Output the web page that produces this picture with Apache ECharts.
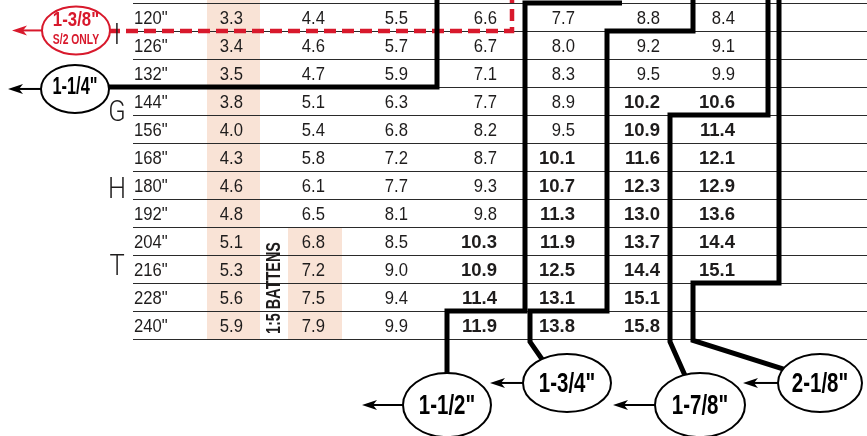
<!DOCTYPE html>
<html><head><meta charset="utf-8">
<script src="https://cdn.jsdelivr.net/npm/echarts@6.0.0/dist/echarts.min.js"></script>
<style>html,body{margin:0;padding:0;background:#fff}#c{width:867px;height:436px}</style>
</head><body><div id="c"></div>
<script>
// ---------- data ----------
const rowHeights = ['120"','126"','132"','144"','156"','168"','180"','192"','204"','216"','228"','240"'];
const col1 = [3.3,3.4,3.5,3.8,4.0,4.3,4.6,4.8,5.1,5.3,5.6,5.9];
const col2 = [4.4,4.6,4.7,5.1,5.4,5.8,6.1,6.5,6.8,7.2,7.5,7.9];
const col3 = [5.5,5.7,5.9,6.3,6.8,7.2,7.7,8.1,8.5,9.0,9.4,9.9];
const col4 = [6.6,6.7,7.1,7.7,8.2,8.7,9.3,9.8,10.3,10.9,11.4,11.9];
const col5 = [7.7,8.0,8.3,8.9,9.5,10.1,10.7,11.3,11.9,12.5,13.1,13.8];
const col6 = [8.8,9.2,9.5,10.2,10.9,11.6,12.3,13.0,13.7,14.4,15.1,15.8];
const col7 = [8.4,9.1,9.9,10.6,11.4,12.1,12.9,13.6,14.4,15.1,null,null];
const sizeLabels = ['1-3/8"','1-1/4"','1-1/2"','1-3/4"','1-7/8"','2-1/8"'];
const redNote = 'S/2 ONLY';
const sideLetters = ['I','G','H','T'];
const battenNote = '1:5 BATTENS';

// ---------- layout (axis units: x = px across, y = table rows) ----------
const FONT = '"Liberation Sans",Arial,Helvetica,sans-serif';
const LFONT = 'Roboto,"Liberation Sans",sans-serif';
const TXT = '#1e1c1c', RED = '#d8192c', SHADE = '#f9e3d6';
const colRight = [243,325,408,497,575,660,735];
const labelLeft = 134, ruleLeft = 133, ruleRight = 867;
const shadeBlocks = [[207,260,-0.2,12],[288,342,8,12]];
const letterPos = [[117,1.18],[117,3.96],[117,6.71],[117,9.46]];
const battenPos = [275,10.18];
const steps = [
  [[104,3],[437,3],[437,-0.3]],
  [[622,0],[525,0],[525,11],[447,11],[447,13.3]],
  [[693,-0.3],[693,1],[607,1],[607,11],[530,11],[530,12.1],[542,12.72]],
  [[768,-0.3],[768,4],[670,4],[670,12.1],[685,13.3]],
  [[779,-0.3],[779,10],[693,10],[693,12.05],[786,13.1]]
];
const redDash = [[108,1],[512,1],[512,-0.3]];
const ellipses = [
  {c:[76,0.98], rx:34, ry:24, tip:12, fs:21, sx:0.8, dy:-10, red:true},
  {c:[75,3.07], rx:34, ry:24, tip:8, fs:23, sx:0.71, dy:-1},
  {c:[447,14.36], rx:44, ry:32, tip:362, fs:28, sx:0.73, dy:1},
  {c:[567,13.57], rx:44, ry:29, tip:490, fs:28, sx:0.73, dy:1},
  {c:[700,14.36], rx:45, ry:32, tip:613, fs:28, sx:0.73, dy:1},
  {c:[820,13.57], rx:42, ry:29, tip:743, fs:28, sx:0.73, dy:1}
];

// ---------- build ----------
const cols = [col1,col2,col3,col4,col5,col6,col7];
const cells = [];
rowHeights.forEach((h,i)=>{
  cells.push({x:labelLeft,row:i,text:h,align:'left',bold:false});
  cols.forEach((c,j)=>{
    if(c[i]!=null) cells.push({x:colRight[j],row:i,text:c[i].toFixed(1),align:'right',bold:c[i]>=10});
  });
});
const rules = rowHeights.map((_,i)=>i).concat([rowHeights.length]);

const chart = echarts.init(document.getElementById('c'), null, {renderer:'canvas'});
const series = [];
series.push({type:'custom', z:1, silent:true, data:shadeBlocks.map(b=>[b[0],b[2],b[1],b[3]]),
  renderItem:(p,api)=>{
    const a=api.coord([api.value(0),api.value(1)]), b=api.coord([api.value(2),api.value(3)]);
    return {type:'rect', shape:{x:a[0],y:a[1],width:b[0]-a[0],height:b[1]-a[1]}, style:{fill:SHADE}};
  }});
series.push({type:'custom', z:2, silent:true, data:rules.map(r=>[r]),
  renderItem:(p,api)=>{
    const a=api.coord([ruleLeft,api.value(0)]), b=api.coord([ruleRight,api.value(0)]);
    const y=Math.round(a[1])+0.5;
    return {type:'line', shape:{x1:a[0],y1:y,x2:b[0],y2:y}, style:{stroke:'#2a2a2a',lineWidth:1.2}};
  }});
series.push({type:'custom', z:3, silent:true, data:cells.map(d=>[d.x,d.row+0.5]),
  renderItem:(p,api)=>{
    const d=cells[p.dataIndex]; const q=api.coord([api.value(0),api.value(1)]);
    return {type:'text', x:q[0], y:q[1]+2, scaleX:d.bold?1.0:0.9, style:{text:d.text, fill:TXT, fontSize:18.5, fontFamily:FONT,
      fontWeight:d.bold?'bold':'normal', align:d.align, verticalAlign:'middle'}};
  }});
series.push({type:'custom', z:3, silent:true, data:[battenPos],
  renderItem:(p,api)=>{
    const q=api.coord([api.value(0),api.value(1)]);
    return {type:'text', x:q[0], y:q[1], rotation:Math.PI/2, scaleX:0.74, style:{text:battenNote, fill:TXT, fontSize:19.5,
      fontFamily:FONT, fontWeight:'bold', align:'center', verticalAlign:'middle'}};
  }});
series.push({type:'line', z:4, silent:true, clip:false, symbol:'none', data:redDash, animation:false,
  lineStyle:{color:RED, width:4.5, type:[12,6], cap:'butt', join:'miter'}});
steps.forEach(s=>series.push({type:'line', z:4, silent:true, clip:false, symbol:'none', data:s, animation:false,
  lineStyle:{color:'#000', width:5, cap:'butt', join:'miter'}}));
series.push({type:'custom', z:6, silent:true, data:ellipses.map(e=>e.c),
  renderItem:(p,api)=>{
    const e=ellipses[p.dataIndex]; const q=api.coord([api.value(0),api.value(1)]);
    const col=e.red?RED:'#000';
    const tipX=api.coord([e.tip,0])[0];
    const cx=q[0], cy=q[1];
    const ch=[
      {type:'line', shape:{x1:cx-e.rx, y1:cy, x2:tipX+8, y2:cy}, style:{stroke:col, lineWidth:2}},
      {type:'polygon', shape:{points:[[tipX,cy],[tipX+15,cy-5],[tipX+11,cy],[tipX+15,cy+5]]}, style:{fill:col}},
      {type:'ellipse', shape:{cx:cx, cy:cy, rx:e.rx, ry:e.ry}, style:{fill:'#fff', stroke:col, lineWidth:2}},
      {type:'text', x:cx, y:cy+e.dy, scaleX:e.sx, style:{text:sizeLabels[p.dataIndex], fill:col, fontSize:e.fs, fontFamily:FONT, fontWeight:'bold', align:'center', verticalAlign:'middle'}}
    ];
    if(e.red){
      ch.push({type:'text', x:cx, y:cy+10, scaleX:0.74, style:{text:redNote, fill:RED, fontSize:14, fontFamily:FONT, fontWeight:'bold', align:'center', verticalAlign:'middle'}});
    }
    return {type:'group', children:ch};
  }});
series.push({type:'custom', z:7, silent:true, data:letterPos,
  renderItem:(p,api)=>{
    const q=api.coord([api.value(0),api.value(1)]);
    return {type:'text', x:q[0], y:q[1], scaleX:0.85, style:{text:sideLetters[p.dataIndex], fill:TXT, fontSize:30, fontWeight:300, fontFamily:LFONT, align:'center', verticalAlign:'middle'}};
  }});

chart.setOption({
  animation:false,
  backgroundColor:'#fff',
  grid:{left:0, right:0, top:3, height:336},
  xAxis:{type:'value', min:0, max:867, show:false},
  yAxis:{type:'value', min:0, max:12, inverse:true, show:false},
  series:series
});
</script></body></html>
